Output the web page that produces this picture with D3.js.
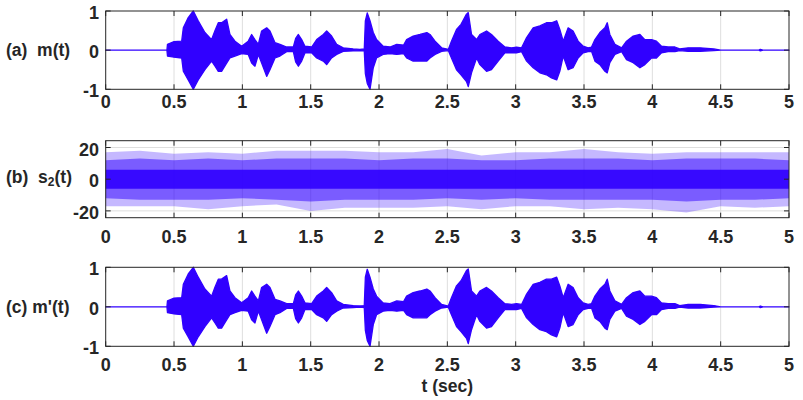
<!DOCTYPE html>
<html>
<head>
<meta charset="utf-8">
<script src="https://cdn.jsdelivr.net/npm/d3@7"></script>
<style>
  html, body { margin: 0; padding: 0; background: #ffffff; }
  svg text { font-family: "Liberation Sans", Arial, sans-serif; font-weight: bold; fill: #262626; }
</style>
</head>
<body>
<svg id="chart" width="803" height="400"></svg>
<script>
// ---------------- DATA ----------------
// m(t): speech envelope (upper / lower extent of the waveform) versus time
const mTime  = [0, 0.448, 0.452, 0.50, 0.556, 0.568, 0.604, 0.641, 0.677, 0.726, 0.775, 0.80, 0.824, 0.848, 0.885, 0.909, 0.946, 0.995,
  1.043, 1.068, 1.092, 1.117, 1.141, 1.178, 1.202, 1.239, 1.275, 1.324, 1.373, 1.39, 1.41, 1.434, 1.458, 1.507, 1.544, 1.592, 1.617, 1.653, 1.69, 1.738, 1.811, 1.86, 1.892,
  1.90, 1.914, 1.934, 1.958, 1.982, 2.03, 2.08, 2.13, 2.18, 2.202, 2.25, 2.30, 2.35, 2.373, 2.41, 2.458, 2.507, 2.53, 2.567, 2.60, 2.64, 2.653, 2.677, 2.714, 2.738, 2.787, 2.823, 2.872, 2.921, 2.97,
  3.006, 3.043, 3.08, 3.128, 3.177, 3.225, 3.262, 3.30, 3.323, 3.348, 3.384, 3.42, 3.457, 3.494, 3.53, 3.555, 3.58, 3.616, 3.653, 3.67, 3.689, 3.726, 3.775, 3.811, 3.86, 3.909, 3.945, 3.994,
  4.03, 4.067, 4.116, 4.165, 4.20, 4.262, 4.35, 4.45, 4.50, 4.78, 4.79, 4.81, 5.0];
const mUpper = [0, 0, 0.15, 0.22, 0.23, 0.57, 0.83, 1.0, 0.75, 0.45, 0.27, 0.5, 0.7, 0.7, 0.79, 0.4, 0.23, 0.1,
  0.23, 0.4, 0.27, 0.15, 0.49, 0.57, 0.49, 0.19, 0.15, 0.08, 0.08, 0.3, 0.4, 0.27, 0.1, 0.08, 0.27, 0.4, 0.49, 0.36, 0.15, 0.06, 0.03, 0.02, 0.03,
  0.75, 0.95, 0.75, 0.45, 0.27, 0.1, 0.08, 0.15, 0.13, 0.27, 0.36, 0.4, 0.45, 0.4, 0.23, 0.06, 0.02, 0.23, 0.53, 0.66, 0.92, 0.96, 0.4, 0.27, 0.4, 0.49, 0.4, 0.23, 0.08, 0.06,
  0.08, 0.06, 0.32, 0.57, 0.62, 0.7, 0.7, 0.75, 0.53, 0.23, 0.57, 0.49, 0.23, 0.1, 0.06, 0.08, 0.27, 0.45, 0.57, 0.7, 0.4, 0.15, 0.06, 0.23, 0.36, 0.4, 0.27, 0.27,
  0.23, 0.1, 0.08, 0.08, 0.03, 0.06, 0.06, 0.03, 0, 0, 0.02, 0, 0];
const mLower = [0, 0, -0.15, -0.18, -0.2, -0.54, -0.76, -1.0, -0.76, -0.5, -0.28, -0.41, -0.54, -0.54, -0.33, -0.2, -0.15, -0.09,
  -0.11, -0.33, -0.41, -0.11, -0.33, -0.67, -0.5, -0.2, -0.15, -0.04, -0.04, -0.3, -0.41, -0.28, -0.07, -0.07, -0.2, -0.28, -0.37, -0.2, -0.11, -0.03, -0.02, -0.01, -0.02,
  -0.6, -0.85, -1.0, -0.45, -0.2, -0.11, -0.09, -0.11, -0.09, -0.2, -0.28, -0.28, -0.28, -0.2, -0.11, -0.03, -0.01, -0.2, -0.5, -0.63, -0.8, -0.93, -0.58, -0.2, -0.37, -0.54, -0.5, -0.28, -0.07, -0.07,
  -0.07, -0.04, -0.28, -0.45, -0.58, -0.63, -0.71, -0.76, -0.54, -0.15, -0.5, -0.45, -0.2, -0.07, -0.04, -0.03, -0.28, -0.37, -0.54, -0.58, -0.32, -0.11, -0.04, -0.24, -0.32, -0.45, -0.37, -0.2,
  -0.2, -0.07, -0.04, -0.04, -0.01, -0.03, -0.03, -0.01, 0, 0, -0.02, 0, 0];
// m'(t): recovered message, visually identical to m(t)
const mrTime = mTime, mrUpper = mUpper, mrLower = mLower;

// s2(t): noise-like modulated signal, envelopes at 0.25 s steps
const sTime      = [0, 0.25, 0.5, 0.75, 1.0, 1.25, 1.5, 1.75, 2.0, 2.25, 2.5, 2.75, 3.0, 3.25, 3.5, 3.75, 4.0, 4.25, 4.5, 4.75, 5.0];
const sPeakUpper = [17, 18, 16, 17, 16, 18, 18, 18, 17, 17, 19, 15, 17, 17, 19, 17, 16, 17, 17, 17, 17];
const sPeakLower = [-17, -17, -17, -19, -17, -16, -20, -18, -18, -18, -17, -19, -17, -17, -19, -18, -19, -21, -17, -18, -17];
const sTypUpper  = [12, 13, 12, 13, 12, 13, 13, 13, 12, 13, 13, 12, 12, 13, 13, 13, 12, 13, 13, 13, 12];
const sTypLower  = [-12, -13, -13, -13, -12, -13, -14, -13, -13, -13, -12, -13, -12, -13, -13, -13, -13, -14, -13, -13, -12];
const sCore      = [6, 6, 6, 6, 6, 6, 6, 6, 6, 6, 6, 6, 6, 6, 6, 6, 6, 6, 6, 6, 6];

const xTicks = [0, 0.5, 1, 1.5, 2, 2.5, 3, 3.5, 4, 4.5, 5];
const xTickLabels = ["0", "0.5", "1", "1.5", "2", "2.5", "3", "3.5", "4", "4.5", "5"];
const mTicks = [-1, 0, 1];
const sTicks = [-20, 0, 20];
const xTitle = "t (sec)";

// ---------------- DRAWING ----------------
const svg = d3.select("#chart");
const BLUE = "#3000ff";
const x = d3.scaleLinear().domain([0, 5]).range([105.7, 789]);

const panels = [
  { top: 11, bottom: 89.3, domain: [-1, 1], ticks: mTicks, labelOff: 12.7, grid: [] },
  { top: 140.7, bottom: 217.7, domain: [-24.3, 24.3], ticks: sTicks, labelOff: 19, grid: [-20, 20] },
  { top: 267.3, bottom: 346.3, domain: [-1, 1], ticks: mTicks, labelOff: 18.5, grid: [] }
];

panels.forEach((p, i) => {
  p.y = d3.scaleLinear().domain(p.domain).range([p.bottom, p.top]);
  const g = svg.append("g");
  p.g = g;
  g.selectAll(".vg").data(xTicks.slice(1, -1)).join("line")
    .attr("x1", d => x(d)).attr("x2", d => x(d))
    .attr("y1", p.top).attr("y2", p.bottom)
    .attr("stroke", "#dedede").attr("stroke-width", 1);
  g.selectAll(".hg").data(p.grid).join("line")
    .attr("x1", x(0)).attr("x2", x(5))
    .attr("y1", d => p.y(d)).attr("y2", d => p.y(d))
    .attr("stroke", "#dedede").attr("stroke-width", 1);
});

function envArea(p, tArr, up, lo) {
  return d3.area()
    .x((d, i) => x(tArr[i]))
    .y0((d, i) => p.y(lo[i]))
    .y1((d, i) => p.y(up[i]))(tArr);
}

[[panels[0], mTime, mUpper, mLower], [panels[2], mrTime, mrUpper, mrLower]].forEach(([p, t, u, l]) => {
  p.g.append("path").attr("d", envArea(p, t, u, l))
    .attr("fill", BLUE).attr("stroke", BLUE).attr("stroke-width", 1.3).attr("stroke-linejoin", "round");
});

const pb = panels[1];
const negCore = sCore.map(v => -v);
pb.g.append("path").attr("d", envArea(pb, sTime, sPeakUpper, sPeakLower))
  .attr("fill", BLUE).attr("fill-opacity", 0.28);
pb.g.append("path").attr("d", envArea(pb, sTime, sTypUpper, sTypLower))
  .attr("fill", BLUE).attr("fill-opacity", 0.5);
pb.g.append("path").attr("d", envArea(pb, sTime, sCore, negCore))
  .attr("fill", BLUE).attr("fill-opacity", 0.9);

panels.forEach((p, i) => {
  const g = p.g;
  g.append("rect").attr("x", x(0)).attr("y", p.top)
    .attr("width", x(5) - x(0)).attr("height", p.bottom - p.top)
    .attr("fill", "none").attr("stroke", "#262626").attr("stroke-width", 1);
  const TL = 5;
  xTicks.forEach(d => {
    g.append("line").attr("x1", x(d)).attr("x2", x(d)).attr("y1", p.bottom).attr("y2", p.bottom - TL).attr("stroke", "#262626");
    g.append("line").attr("x1", x(d)).attr("x2", x(d)).attr("y1", p.top).attr("y2", p.top + TL).attr("stroke", "#262626");
  });
  p.ticks.forEach(d => {
    g.append("line").attr("x1", x(0)).attr("x2", x(0) + TL).attr("y1", p.y(d)).attr("y2", p.y(d)).attr("stroke", "#262626");
    g.append("line").attr("x1", x(5)).attr("x2", x(5) - TL).attr("y1", p.y(d)).attr("y2", p.y(d)).attr("stroke", "#262626");
  });
  g.selectAll(".xl").data(xTicks).join("text")
    .attr("x", d => x(d)).attr("y", p.bottom + p.labelOff)
    .attr("text-anchor", "middle").attr("dominant-baseline", "central")
    .attr("font-size", 18)
    .text((d, k) => xTickLabels[k]);
  g.selectAll(".yl").data(p.ticks).join("text")
    .attr("x", 99).attr("y", d => p.y(d) + 2)
    .attr("text-anchor", "end").attr("dominant-baseline", "central")
    .attr("font-size", 18)
    .text(d => String(d));
});

const t1 = svg.append("text").attr("x", 6).attr("y", 50).attr("dominant-baseline", "central").attr("font-size", 17.5);
t1.text("(a)\u00a0\u00a0m(t)");
const t2 = svg.append("text").attr("x", 6).attr("y", 176.7).attr("dominant-baseline", "central").attr("font-size", 17.5);
t2.append("tspan").text("(b)\u00a0\u00a0s");
t2.append("tspan").attr("font-size", 12).attr("dy", 5).text("2");
t2.append("tspan").attr("dy", -5).text("(t)");
const t3 = svg.append("text").attr("x", 6).attr("y", 307).attr("dominant-baseline", "central").attr("font-size", 17.5);
t3.text("(c) m'(t)");

svg.append("text").attr("x", x(2.5)).attr("y", 386).attr("text-anchor", "middle")
  .attr("dominant-baseline", "central").attr("font-size", 17.5).text(xTitle);
</script>
</body>
</html>
